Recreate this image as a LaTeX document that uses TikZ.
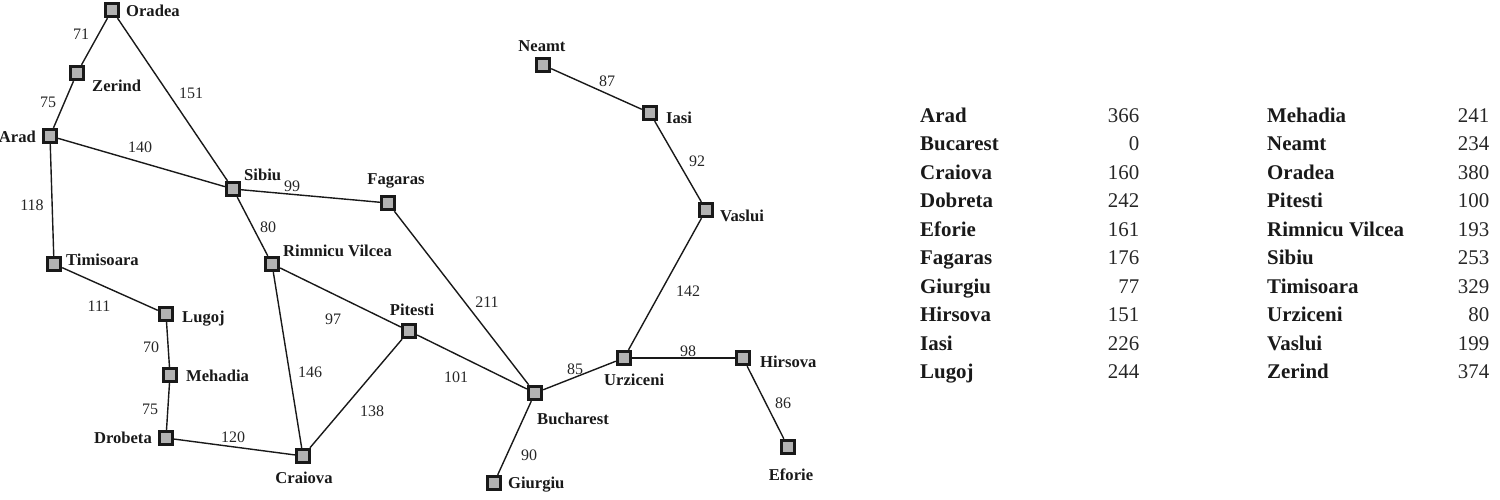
\documentclass[tikz,border=0pt]{standalone}
\usepackage{fontspec}
\setmainfont{Liberation Serif}
\tikzset{
  city/.style={rectangle,draw=black!90,fill=black!30,line width=3.4pt,minimum size=13pt,inner sep=0pt},
  road/.style={line width=1.4pt,draw=black!90},
  cname/.style={inner sep=0pt,font=\fontsize{16.6}{17}\selectfont\bfseries,text=black!90},
  dist/.style={inner sep=0pt,font=\fontsize{16}{17}\selectfont,text=black!85},
  tname/.style={inner sep=0pt,anchor=base west,font=\fontsize{20.9}{21}\selectfont\bfseries,text=black!90},
  tval/.style={inner sep=0pt,anchor=base east,font=\fontsize{20.9}{21}\selectfont,text=black!85},
}
\begin{document}
\begin{tikzpicture}[x=1pt,y=-1pt]
\useasboundingbox (0,0) rectangle (1500,500);
% cities
\foreach \n/\x/\y in {Oradea/112/10,Zerind/77/73,Arad/50/136,Timisoara/54/264,Lugoj/166/314,Mehadia/170/375,Drobeta/166/438,Craiova/303/456,Sibiu/233/189,Rimnicu/272/264,Fagaras/388/203,Pitesti/409/331,Bucharest/535/393,Giurgiu/494/483,Urziceni/624/358,Hirsova/743/358,Eforie/788/447,Vaslui/706/210,Iasi/650/113,Neamt/543/65}
  \node[city] (\n) at (\x,\y) {};
% roads
\foreach \a/\b in {Oradea/Zerind,Zerind/Arad,Oradea/Sibiu,Arad/Sibiu,Arad/Timisoara,Timisoara/Lugoj,Lugoj/Mehadia,Mehadia/Drobeta,Drobeta/Craiova,Sibiu/Fagaras,Sibiu/Rimnicu,Rimnicu/Pitesti,Rimnicu/Craiova,Craiova/Pitesti,Pitesti/Bucharest,Fagaras/Bucharest,Bucharest/Giurgiu,Bucharest/Urziceni,Urziceni/Hirsova,Hirsova/Eforie,Urziceni/Vaslui,Vaslui/Iasi,Iasi/Neamt}
  \draw[road] (\a) -- (\b);
% city names
\node[cname,anchor=base west] (lOradea) at (126,17) {Oradea};
\node[cname,anchor=base west] (lZerind) at (92,92) {Zerind};
\node[cname,anchor=base east] (lArad) at (36,143) {Arad};
\node[cname,anchor=base west] (lSibiu) at (244,180) {Sibiu};
\node[cname,anchor=base] (lFagaras) at (396,185) {Fagaras};
\node[cname,anchor=base west] (lRimnicu) at (283,256) {Rimnicu Vilcea};
\node[cname,anchor=base west] (lTimisoara) at (66,265) {Timisoara};
\node[cname,anchor=base west] (lLugoj) at (182,322) {Lugoj};
\node[cname,anchor=base west] (lMehadia) at (186,381) {Mehadia};
\node[cname,anchor=base east] (lDrobeta) at (152,443) {Drobeta};
\node[cname,anchor=base] (lCraiova) at (304,483) {Craiova};
\node[cname,anchor=base] (lPitesti) at (412,315) {Pitesti};
\node[cname,anchor=base west] (lBucharest) at (537,424) {Bucharest};
\node[cname,anchor=base west] (lGiurgiu) at (508,488) {Giurgiu};
\node[cname,anchor=base west] (lUrziceni) at (604,385) {Urziceni};
\node[cname,anchor=base west] (lHirsova) at (760,367) {Hirsova};
\node[cname,anchor=base] (lEforie) at (791,480) {Eforie};
\node[cname,anchor=base west] (lVaslui) at (720,221) {Vaslui};
\node[cname,anchor=base west] (lIasi) at (666,124) {Iasi};
\node[cname,anchor=base] (lNeamt) at (542,52) {Neamt};
% distances
\foreach \i/\t/\x/\y in {a/71/81/40,b/75/48/108,c/151/191/99,d/140/140/153,e/118/32/211,f/99/292/192,g/80/268/233,h/211/487/307,i/97/333/324,j/111/99/311,k/70/151/352,l/75/150/414,m/120/233/442,n/146/310/377,o/138/372/416,p/101/456/382,q/85/575/374,r/98/688/356,s/90/529/460,t/86/783/408,u/142/688/296,v/92/697/167,w/87/607/87}
  \node[dist,anchor=base] (d\i) at (\x,\y) {\t};
% table
\foreach \i/\n/\v/\y in {a/Arad/366/122.5,b/Bucarest/0/150.5,c/Craiova/160/179,d/Dobreta/242/207.5,e/Eforie/161/236,f/Fagaras/176/264.5,g/Giurgiu/77/293,h/Hirsova/151/321.5,i/Iasi/226/350,j/Lugoj/244/378.5}{
  \node[tname] (ta\i) at (920,\y) {\n};
  \node[tval] (tb\i) at (1139.5,\y) {\v};
}
\foreach \i/\n/\v/\y in {a/Mehadia/241/122.5,b/Neamt/234/150.5,c/Oradea/380/179,d/Pitesti/100/207.5,e/Rimnicu Vilcea/193/236,f/Sibiu/253/264.5,g/Timisoara/329/293,h/Urziceni/80/321.5,i/Vaslui/199/350,j/Zerind/374/378.5}{
  \node[tname] (tc\i) at (1267,\y) {\n};
  \node[tval] (td\i) at (1489.5,\y) {\v};
}
\end{tikzpicture}
\end{document}
